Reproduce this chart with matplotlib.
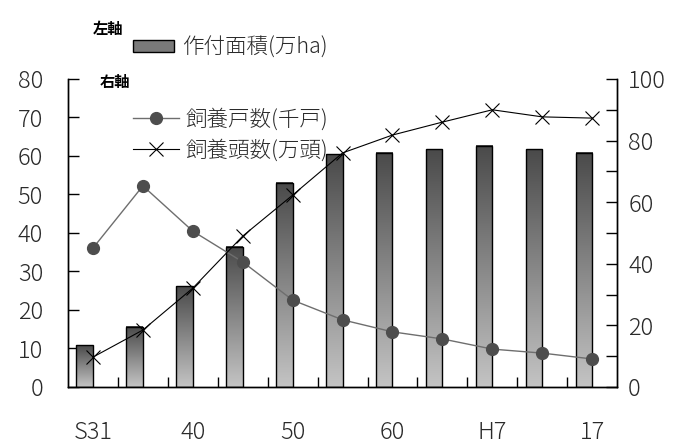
import numpy as np
import matplotlib.pyplot as plt
from matplotlib.colors import LinearSegmentedColormap
from matplotlib.lines import Line2D
from matplotlib.patches import Patch

plt.rcParams['font.family'] = ['Noto Sans CJK JP', 'DejaVu Sans']
plt.rcParams['font.weight'] = 'light'

# data
years = ['S31', '35', '40', '45', '50', '55', '60', 'H2', 'H7', '12', '17']
tick_labels = ['S31', '', '40', '', '50', '', '60', '', 'H7', '', '17']
area = [10.8, 15.6, 26.2, 36.4, 53.0, 60.5, 60.8, 61.8, 62.6, 61.8, 60.8]          # 作付面積(万ha), left
households = [45.1, 65.3, 50.6, 40.6, 28.2, 21.8, 17.9, 15.6, 12.3, 11.0, 9.1]    # 飼養戸数(千戸), right
heads = [9.7, 18.5, 32.1, 49.0, 62.3, 76.0, 81.8, 86.0, 90.0, 87.7, 87.3]           # 飼養頭数(万頭), right

text_color = '#2a2a2a'
fs = 17

fig = plt.figure(figsize=(6.89, 4.46), dpi=100)
ax = fig.add_axes([0.0987, 0.1323, 0.797, 0.6906])
ax2 = ax.twinx()

x = np.arange(len(years))
bar_w = 0.33

# gradient bars, dark at the top fading to light at the bottom
cmap = LinearSegmentedColormap.from_list('barfade', ['#c4c4c4', '#4a4a4a'])
grad = np.linspace(0, 1, 256).reshape(-1, 1)
bars = ax.bar(x, area, width=-bar_w, align='edge', facecolor='none',
              edgecolor='black', linewidth=1, zorder=3)
for b in bars:
    x0, y0 = b.get_x(), b.get_y()
    ax.imshow(grad, extent=[x0, x0 + b.get_width(), y0, y0 + b.get_height()],
              origin='lower', aspect='auto', cmap=cmap, zorder=2)

ax.set_xlim(-0.5, len(years) - 0.5)
ax.set_ylim(0, 80)
ax.set_yticks(np.arange(0, 81, 10))
ax.set_xticks(x)
ax.set_xticklabels(tick_labels)
ax.set_xticks(x[:-1] + 0.5, minor=True)
ax.tick_params(axis='x', which='major', length=0, pad=24, labelsize=fs, labelcolor=text_color)
ax.tick_params(axis='x', which='minor', direction='in', length=7, width=1)
ax.tick_params(axis='y', direction='in', length=8, width=1, pad=18,
               labelsize=fs, labelcolor=text_color)

# lines on the right axis
ax2.plot(x, households, color='#6e6e6e', linewidth=1, marker='o', markersize=8.5,
         markerfacecolor='#4d4d4d', markeredgecolor='#4d4d4d', zorder=4)
ax2.plot(x, heads, color='black', linewidth=0.8, marker='x', markersize=10,
         markeredgewidth=0.8, zorder=4)
ax2.set_ylim(0, 100)
ax2.set_yticks(np.arange(0, 101, 20))
ax2.set_yticks(np.arange(10, 100, 20), minor=True)
ax2.tick_params(axis='y', which='both', direction='in', length=8, width=1, pad=8,
                labelsize=fs, labelcolor=text_color)

for a in (ax, ax2):
    a.spines['top'].set_visible(False)
    for s in ('left', 'right', 'bottom'):
        a.spines[s].set_linewidth(1)

# legend blocks above / inside the plot
fig.text(0.135, 0.935, '左軸', fontsize=11, fontweight='bold', color='black', va='center')
fig.text(0.145, 0.817, '右軸', fontsize=11, fontweight='bold', color='black', va='center')

bar_handle = Patch(facecolor='#7a7a7a', edgecolor='black', linewidth=1)
fig.legend([bar_handle], ['作付面積(万ha)'], loc='center left',
           bbox_to_anchor=(0.178, 0.893), frameon=False, fontsize=15.5,
           handlelength=1.9, handleheight=0.45, handletextpad=0.35, borderpad=0,
           labelcolor=text_color)

line_handles = [
    Line2D([], [], color='#6e6e6e', linewidth=1, marker='o', markersize=8.5,
           markerfacecolor='#4d4d4d', markeredgecolor='#4d4d4d'),
    Line2D([], [], color='black', linewidth=0.8, marker='x', markersize=10,
           markeredgewidth=0.8),
]
fig.legend(line_handles, ['飼養戸数(千戸)', '飼養頭数(万頭)'], loc='center left',
           bbox_to_anchor=(0.178, 0.698), frameon=False, fontsize=15.5,
           handlelength=2.1, handletextpad=0.3, borderpad=0, labelspacing=0.4,
           labelcolor=text_color)

fig.savefig('out.png', dpi=100, facecolor='white')
